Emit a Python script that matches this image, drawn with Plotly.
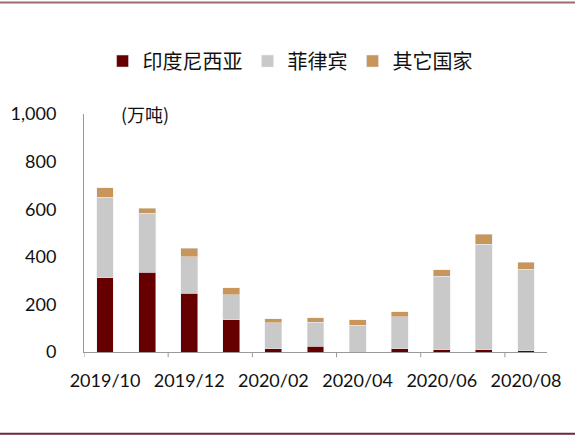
import plotly.graph_objects as go

months = ["2019/10", "2019/11", "2019/12", "2020/01", "2020/02", "2020/03",
          "2020/04", "2020/05", "2020/06", "2020/07", "2020/08"]
indonesia = [311, 335, 246, 136, 13, 25, 0, 14, 10, 10, 5]
philippines = [340, 249, 155, 104, 109, 100, 113, 135, 308, 443, 342]
others = [39, 19, 34, 30, 17, 18, 23, 20, 28, 41, 30]
tick_labels = ["2019/10", "2019/12", "2020/02", "2020/04", "2020/06", "2020/08"]

cjk = "Noto Sans CJK SC"
num_font = "Lato, Noto Sans, sans-serif"

fig = go.Figure()

fig.add_trace(go.Bar(x=months, y=indonesia, name="印度尼西亚", marker_color="#660000"))
fig.add_trace(go.Bar(x=months, y=philippines, name="菲律宾", marker_color="#C9C9C9"))
fig.add_trace(go.Bar(x=months, y=others, name="其它国家", marker_color="#C8955A"))

fig.update_layout(
    barmode="stack",
    bargap=0.6,
    width=575,
    height=436,
    margin=dict(l=84, r=28, t=114, b=84),
    plot_bgcolor="white",
    paper_bgcolor="white",
    font=dict(family=num_font, size=18, color="#111"),
    legend=dict(
        orientation="h",
        traceorder="normal",
        x=0.445,
        xanchor="center",
        y=0.86,
        yref="container",
        yanchor="middle",
        font=dict(family=cjk, size=20, color="#111"),
    ),
)

fig.update_xaxes(
    type="category",
    tickmode="array",
    tickvals=tick_labels,
    ticktext=tick_labels,
    showline=True,
    linecolor="#999",
    linewidth=1,
    ticks="",
    ticklabelstandoff=12,
    showgrid=False,
    zeroline=False,
    tickfont=dict(family=num_font, size=18, color="#111"),
    range=[-0.5, 10.5],
)
fig.update_yaxes(
    range=[0, 1000],
    tickvals=[0, 200, 400, 600, 800, 1000],
    tickformat=",d",
    showline=True,
    linecolor="#999",
    linewidth=1,
    showgrid=False,
    zeroline=False,
    ticks="",
    ticklabelstandoff=23,
    tickfont=dict(family=num_font, size=18, color="#111"),
)

# tick marks on the category boundaries, every two months
for b in [-0.5, 1.5, 3.5, 5.5, 7.5, 9.5]:
    fig.add_shape(type="line", xref="x", yref="paper", x0=b, x1=b, y0=0, y1=-0.022,
                  line=dict(color="#999", width=1))

fig.add_annotation(text="(万吨)", xref="paper", yref="paper", x=0.075, y=1.0,
                   xanchor="left", yanchor="middle", showarrow=False,
                   font=dict(family=cjk, size=18, color="#111"))

# dark red frame lines at the top and bottom of the picture
fig.add_shape(type="line", xref="paper", yref="paper", x0=-0.2, x1=1.1,
              y0=1.469, y1=1.469, line=dict(color="#9E6A6A", width=2))
fig.add_shape(type="line", xref="paper", yref="paper", x0=-0.2, x1=1.1,
              y0=-0.344, y1=-0.344, line=dict(color="#6B2A3A", width=2))

fig.write_html("out.html", config={"displayModeBar": False},
               post_script="document.body.style.margin='0';")
